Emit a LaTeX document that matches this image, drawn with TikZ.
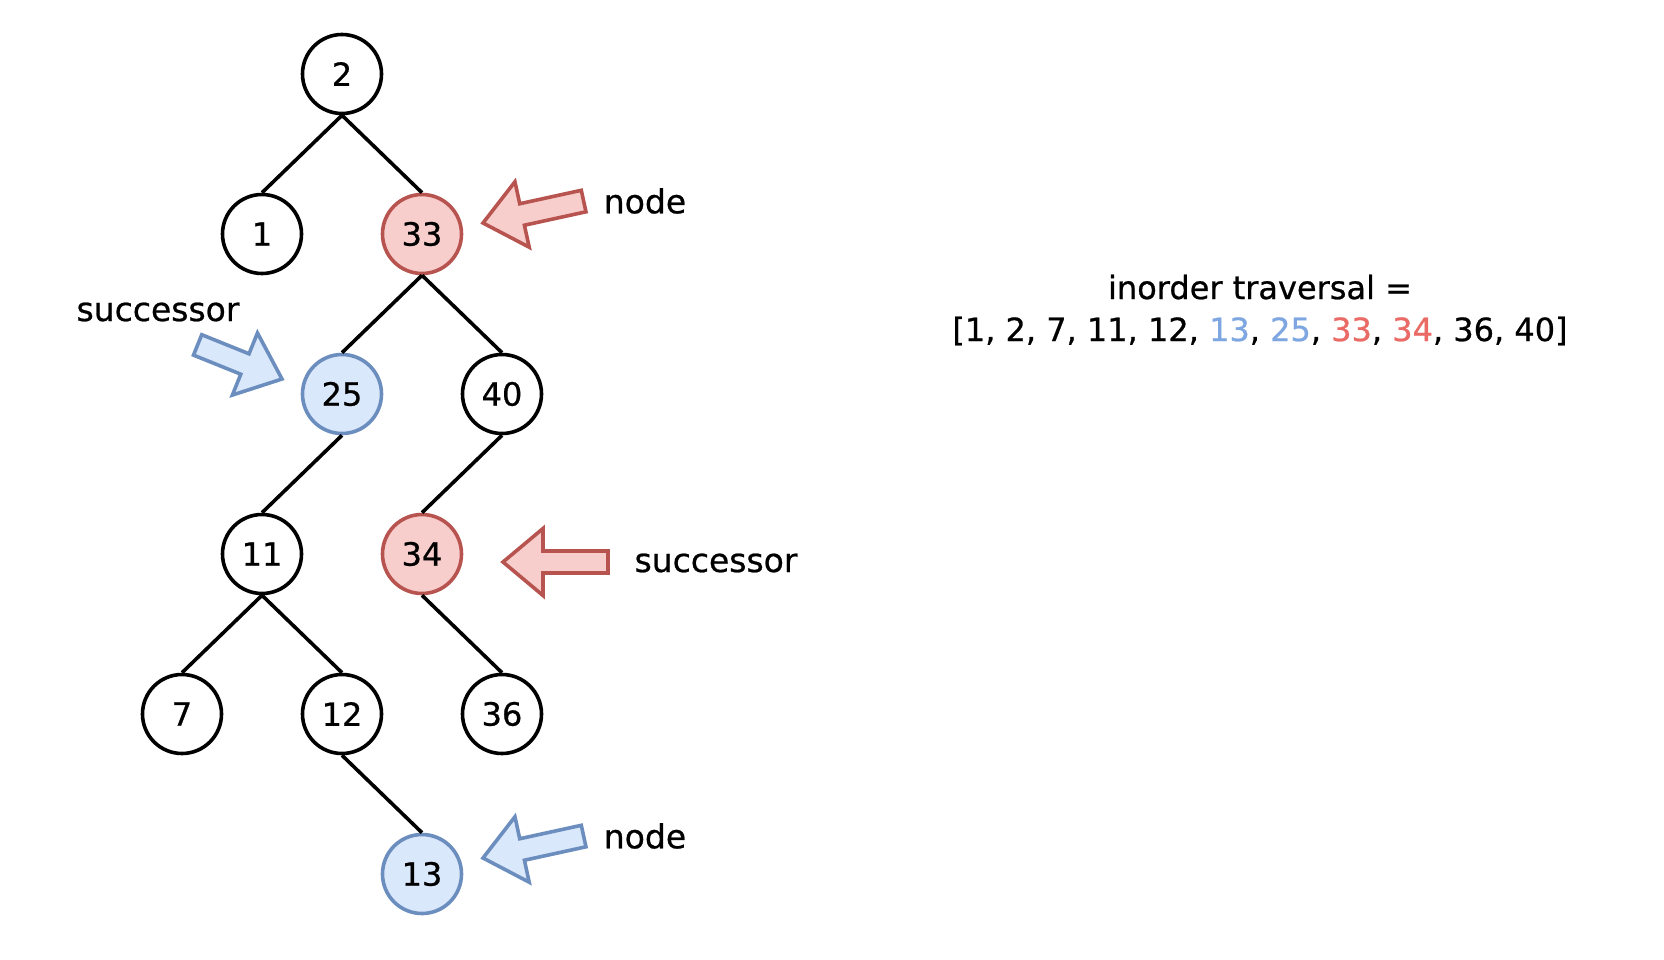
\documentclass[tikz,border=0pt]{standalone}
\usepackage{fontspec}
\setmainfont{DejaVu Sans}[FakeBold=0.7]
\definecolor{redfill}{HTML}{F8CECC}
\definecolor{redline}{HTML}{B85450}
\definecolor{bluefill}{HTML}{DAE8FC}
\definecolor{blueline}{HTML}{6C8EBF}
\definecolor{redtext}{HTML}{EA6B66}
\definecolor{bluetext}{HTML}{7EA6E0}
\tikzset{
  pics/blockarrow/.style={code={
    \draw[pic actions] (0,0) -- (-40,33.5) -- (-40,11) -- (-#1,11)
      -- (-#1,-11) -- (-40,-11) -- (-40,-33.5) -- cycle;}},
}
\begin{document}
\begin{tikzpicture}[x=1pt,y=-1pt,
  treenode/.style={circle, draw=black, fill=white, line width=3.6pt,
    minimum size=79pt, inner sep=0pt, font=\fontsize{32}{38}\selectfont},
  rednode/.style={treenode, draw=redline, fill=redfill},
  bluenode/.style={treenode, draw=blueline, fill=bluefill},
  edge/.style={line width=3.6pt, draw=black},
  redarrow/.style={draw=redline, fill=redfill, line width=3.6pt},
  bluearrow/.style={draw=blueline, fill=bluefill, line width=3.6pt},
  label/.style={font=\fontsize{33}{40}\selectfont, inner sep=0pt},
]
\useasboundingbox (0,0) rectangle (1664,960);

% tree nodes
\node[treenode] (n2)  at (342,74)  {2};
\node[treenode] (n1)  at (262,234) {1};
\node[rednode]  (n33) at (422,234) {33};
\node[bluenode] (n25) at (342,394) {25};
\node[treenode] (n40) at (502,394) {40};
\node[treenode] (n11) at (262,554) {11};
\node[rednode]  (n34) at (422,554) {34};
\node[treenode] (n7)  at (182,714) {7};
\node[treenode] (n12) at (342,714) {12};
\node[treenode] (n36) at (502,714) {36};
\node[bluenode] (n13) at (422,874) {13};

% tree edges
\draw[edge] (n2.south)  -- (n1.north);
\draw[edge] (n2.south)  -- (n33.north);
\draw[edge] (n33.south) -- (n25.north);
\draw[edge] (n33.south) -- (n40.north);
\draw[edge] (n25.south) -- (n11.north);
\draw[edge] (n40.south) -- (n34.north);
\draw[edge] (n11.south) -- (n7.north);
\draw[edge] (n11.south) -- (n12.north);
\draw[edge] (n34.south) -- (n36.north);
\draw[edge] (n12.south) -- (n13.north);

% pointer arrows
\pic[redarrow, rotate=192.3]  at (483,223) {blockarrow=103};
\pic[redarrow, rotate=180]    at (503,562) {blockarrow=105};
\pic[bluearrow, rotate=-22]   at (282,379) {blockarrow=91};
\pic[bluearrow, rotate=192.3] at (483,858) {blockarrow=103};

% labels
\node[label] (lnode1) at (645,201) {node};
\node[label] (lsucc1) at (716,563) {successor};
\node[label] (lsucc2) at (158,312) {successor};
\node[label] (lnode2) at (645,836) {node};

\node[label, font=\fontsize{32}{42}\selectfont, align=center] (trav) at (1260,310)
  {inorder traversal =\\
   {[}1, 2, 7, 11, 12, \textcolor{bluetext}{13}, \textcolor{bluetext}{25},
    \textcolor{redtext}{33}, \textcolor{redtext}{34}, 36, 40{]}};
\end{tikzpicture}
\end{document}
